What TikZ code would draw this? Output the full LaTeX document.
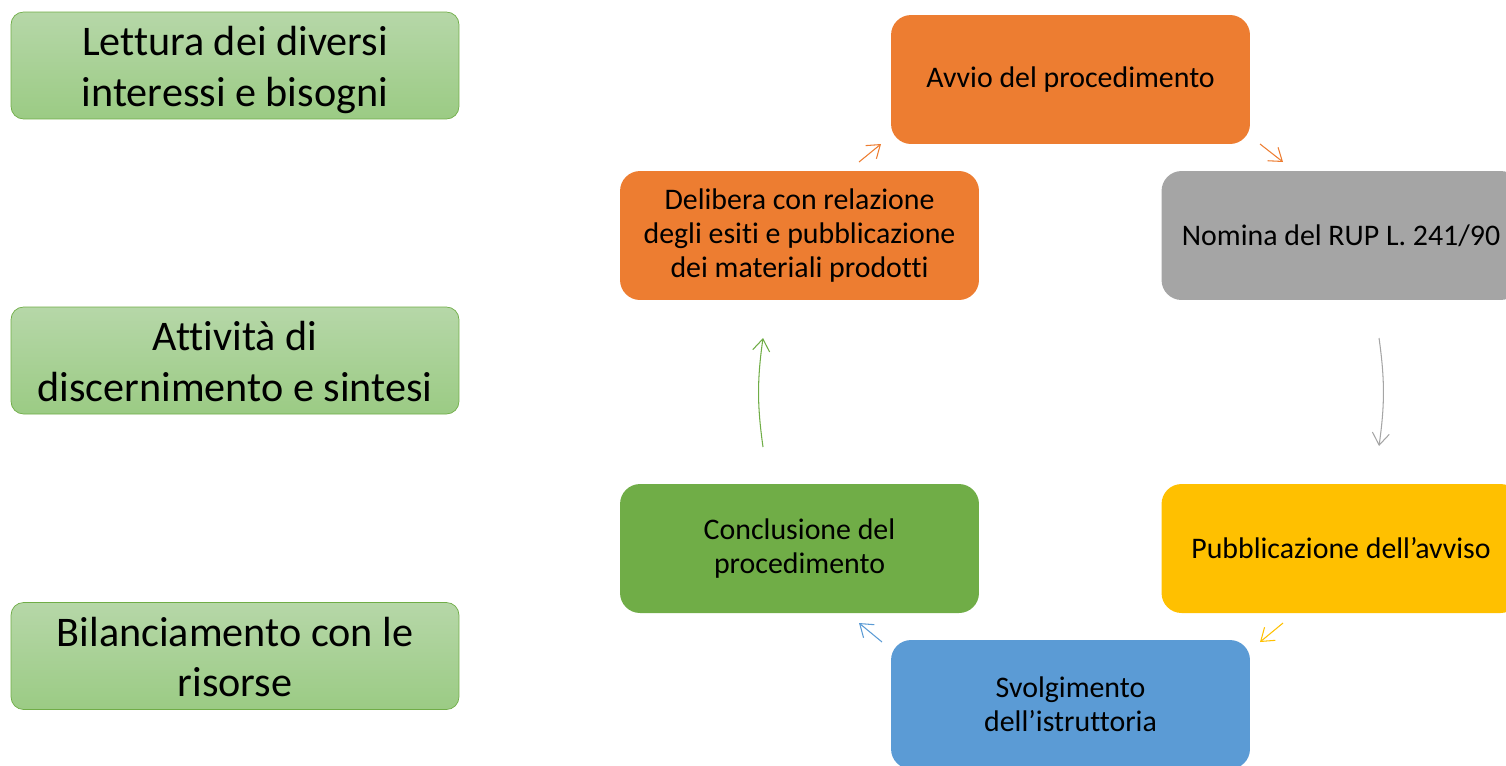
\documentclass[tikz,border=0pt]{standalone}
\usepackage{fontspec}
\setmainfont{Carlito}[RawFeature={-liga;-clig;-dlig;-calt}]
\usetikzlibrary{arrows.meta}
\definecolor{orangeA}{HTML}{ED7D31}
\definecolor{grayA}{HTML}{A5A5A5}
\definecolor{yellowA}{HTML}{FFC000}
\definecolor{greenA}{HTML}{70AD47}
\definecolor{blueA}{HTML}{5B9BD5}
\definecolor{greenTop}{HTML}{B6D7A8}
\definecolor{greenBot}{HTML}{9BCB84}
\newcommand{\sidetext}[1]{\raisebox{-3pt}[\height][\depth]{\begin{tabular}{@{}c@{}}#1\end{tabular}}}

\begin{document}
\begin{tikzpicture}[x=0.02cm,y=-0.02cm,
      phase/.style={rounded corners=0.4cm, minimum width=7.18cm, minimum height=2.58cm, align=center, font=\fontsize{17}{19.4}\selectfont},
      side/.style={draw=greenA, rounded corners=0.25cm, top color=greenTop, bottom color=greenBot, inner sep=0pt, minimum width=8.96cm, minimum height=2.14cm, align=center, font=\fontsize{24}{29}\selectfont},
      link/.style={line width=0.6pt, -{Straight Barb[length=2.4mm,width=3.4mm]}}
      ]
      \useasboundingbox (0,0) rectangle (1506,765);
      \clip (0,0) rectangle (1506,765);

      % left column
      \node[side] (L1) at (235,65.5) {\sidetext{Lettura dei diversi\\interessi e bisogni}};
      \node[side] (L2) at (235,360.5) {\sidetext{Attività di\\discernimento e sintesi}};
      \node[side] (L3) at (235,656) {\sidetext{Bilanciamento con le\\risorse}};

      % cycle
      \node[phase, fill=orangeA] (Avvio) at (1070.5,79.5) {Avvio del procedimento};
      \node[phase, fill=grayA] (Nomina) at (1341,235.5) {Nomina del RUP L. 241/90};
      \node[phase, fill=yellowA] (Pubbl) at (1341,548.5) {Pubblicazione dell’avviso};
      \node[phase, fill=blueA] (Svolg) at (1070.5,704.5) {Svolgimento\\dell’istruttoria};
      \node[phase, fill=greenA] (Concl) at (799.5,548.5) {Conclusione del\\procedimento};
      \node[phase, fill=orangeA] (Delib) at (799.5,235.5) {Delibera con relazione\\degli esiti e pubblicazione\\dei materiali prodotti};

      \coordinate (a1) at (859,162);  \coordinate (b1) at (881,144);
      \coordinate (a2) at (1260,144); \coordinate (b2) at (1283,162);
      \coordinate (a3) at (1379,338); \coordinate (b3) at (1379,446);
      \coordinate (a4) at (1283,623); \coordinate (b4) at (1260,642);
      \coordinate (a5) at (882,642);  \coordinate (b5) at (859,623);
      \coordinate (a6) at (763,447);  \coordinate (b6) at (763,338);

      \foreach \i/\col/\bend in {1/orangeA/0,2/orangeA/0,3/grayA/8,4/yellowA/0,5/blueA/0,6/greenA/8}{
        \draw[link,\col] (a\i) to[bend left=\bend] (b\i);
      }
    \end{tikzpicture}
\end{document}
